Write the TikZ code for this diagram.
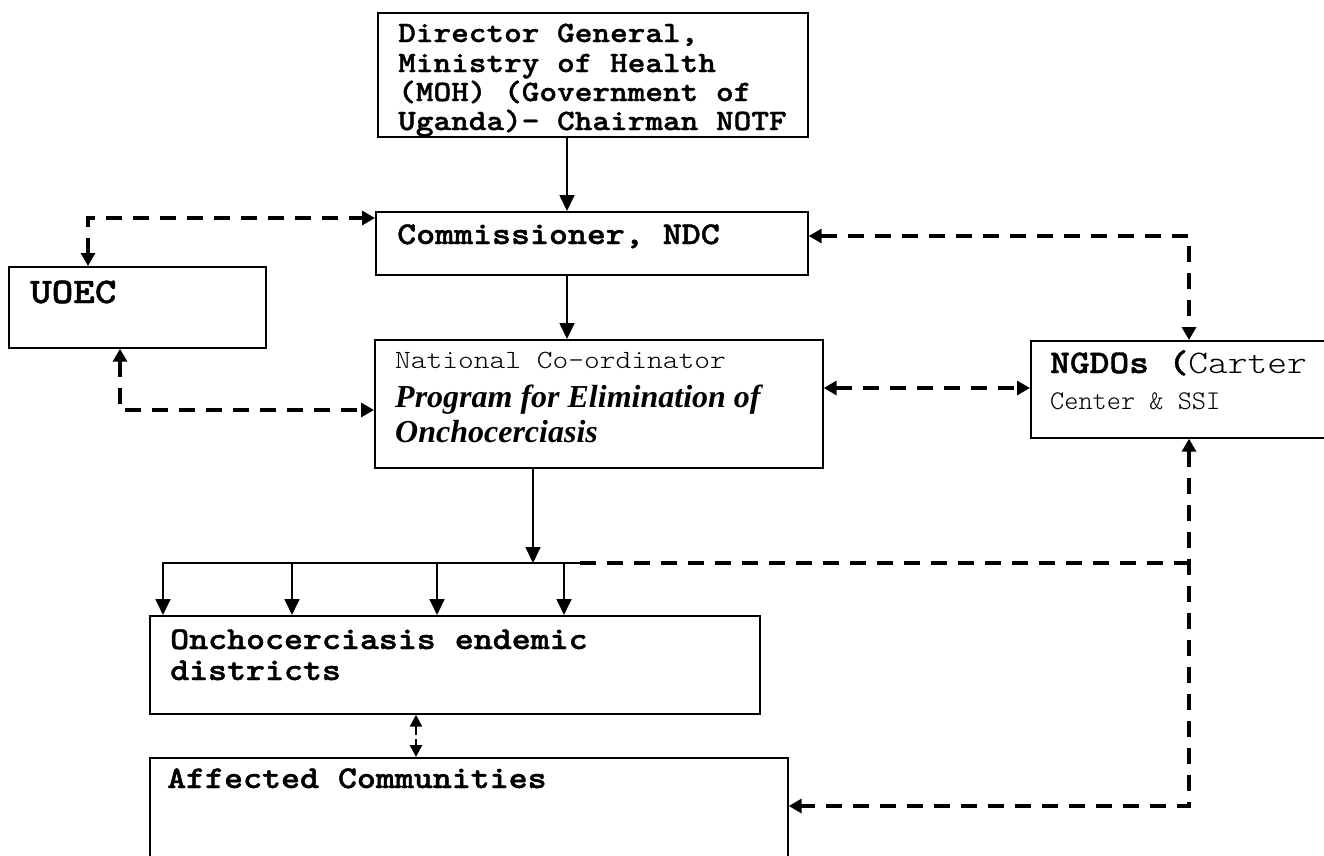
\documentclass[tikz,border=0pt]{standalone}
\usepackage{fontspec}
\usetikzlibrary{arrows.meta}
\newfontfamily\courf{lmmonolt10}[Extension=.otf, UprightFont=*-regular, BoldFont=*-bold, FakeStretch=1.14, BoldFeatures={FakeBold=1.3}]
\newfontfamily\courn{lmmonolt10}[Extension=.otf, UprightFont=*-regular, BoldFont=*-bold]
\newfontfamily\timesf{Liberation Serif}
\begin{document}
\begin{tikzpicture}[x=1pt,y=-1pt,
  box/.style={draw, line width=1.7pt, inner sep=0pt, anchor=north west},
  txt/.style={anchor=base west, inner sep=0pt},
  solidarrow/.style={line width=1.7pt, -{Triangle[length=16pt,width=15pt]}},
  dasharrow/.style={line width=3.4pt, dash pattern=on 16pt off 11pt,
     {Triangle[length=13pt,width=14pt]}-{Triangle[length=13pt,width=14pt]}},
  dashline/.style={line width=3.4pt, dash pattern=on 16pt off 11pt},
  ctop/.style={font=\courf\bfseries\fontsize{29.5}{30}\selectfont},
  cbig/.style={font=\courf\bfseries\fontsize{31.7}{32}\selectfont},
]
\path[use as bounding box] (0,0) rectangle (1324,855);
\fill[white] (0,0) rectangle (1324,855);
\clip (0,0) rectangle (1324,855);

% boxes
\node[box, minimum width=430pt, minimum height=124pt] (dg) at (377,12) {};
\node[box, minimum width=432pt, minimum height=63pt] (comm) at (375,211) {};
\node[box, minimum width=257pt, minimum height=81pt] (uoec) at (8,266) {};
\node[box, minimum width=448pt, minimum height=128pt] (natco) at (374,339) {};
\node[box, minimum width=330pt, minimum height=97pt] (ngdos) at (1030,340) {};
\node[box, minimum width=610pt, minimum height=98pt] (endemic) at (149,615) {};
\node[box, minimum width=638pt, minimum height=130pt] (affected) at (149,757) {};

% texts
\node[txt, ctop] (dg1) at (398,42) {Director General,};
\node[txt, ctop] (dg2) at (398,72) {Ministry of Health};
\node[txt, ctop] (dg3) at (398,101) {(MOH) (Government of};
\node[txt, ctop] (dg4) at (398,130) {Uganda)- Chairman NOTF};
\node[txt, cbig] (commt) at (397,244) {Commissioner, NDC};
\node[txt, font=\courf\bfseries\fontsize{36}{36}\selectfont] (uoect) at (30,303) {UOEC};
\node[txt, font=\courf\fontsize{26.3}{27}\selectfont] (nat1) at (395,368) {National Co-ordinator};
\node[txt, font=\timesf\bfseries\itshape\fontsize{32}{33}\selectfont] (nat2) at (395,407) {Program for Elimination of};
\node[txt, font=\timesf\bfseries\itshape\fontsize{32}{33}\selectfont] (nat3) at (395,442) {Onchocerciasis};
\node[txt, font=\courf\fontsize{33}{33}\selectfont] (ng1) at (1050,373) {{\bfseries NGDOs (}Carter};
\node[txt, font=\courn\fontsize{27}{27}\selectfont] (ng2) at (1050,409) {Center \& SSI};
\node[txt, cbig] (end1) at (170,649) {Onchocerciasis endemic};
\node[txt, cbig] (end2) at (170,680) {districts};
\node[txt, cbig] (aff1) at (167,788) {Affected Communities};

% solid connectors
\coordinate (xa) at (567,0);
\draw[solidarrow] (dg.south -| xa) -- (comm.north -| xa);
\draw[solidarrow] (comm.south -| xa) -- (natco.north -| xa);
\coordinate (bus) at (533,563);
\draw[solidarrow] (natco.south -| bus) -- (bus);
\coordinate (busL) at (163,563);
\coordinate (busR) at (580,563);
\draw[solidarrow] (busR) -| (endemic.north -| busL);
\coordinate (b2) at (292,563);
\coordinate (b3) at (437,563);
\coordinate (b4) at (564,563);
\draw[solidarrow] (b2) -- (endemic.north -| b2);
\draw[solidarrow] (b3) -- (endemic.north -| b3);
\draw[solidarrow] (b4) -- (endemic.north -| b4);

% dashed connectors
\coordinate (xv) at (1189,0);
\draw[dasharrow] ([yshift=-25pt]comm.north east) -| (ngdos.north -| xv);
\coordinate (yn) at (0,388);
\draw[dasharrow] (natco.east |- yn) -- (ngdos.west |- yn);
\coordinate (ya) at (0,806);
\draw[dasharrow] (ngdos.south -| xv) |- (affected.east |- ya);
\draw[dashline] (busR) -- (busR -| xv);
\coordinate (xu1) at (88,0);
\draw[dasharrow] (uoec.north -| xu1) |- ([yshift=-7pt]comm.north west);
\coordinate (xu2) at (120,0);
\draw[dasharrow] (uoec.south -| xu2) |- ([yshift=-71pt]natco.north west);
\coordinate (xe) at (416,0);
\draw[line width=2.4pt, dash pattern=on 9pt off 4pt,
  {Triangle[length=12pt,width=12pt]}-{Triangle[length=12pt,width=12pt]}]
  (endemic.south -| xe) -- (affected.north -| xe);
\end{tikzpicture}
\end{document}
